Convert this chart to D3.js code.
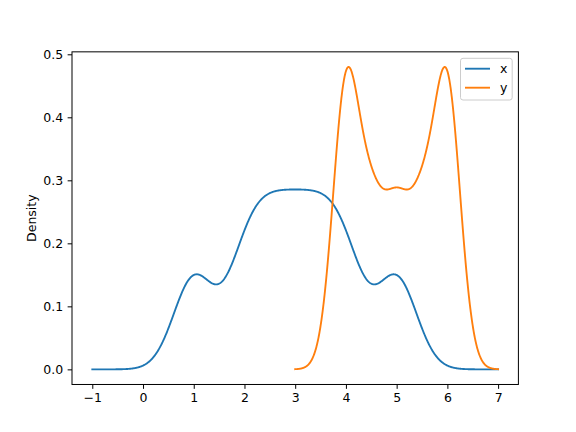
<!DOCTYPE html>
<html><head><meta charset="utf-8">
<script src="https://cdn.jsdelivr.net/npm/d3@7"></script>
<style>body{margin:0;background:#fff}svg{display:block}text{font-family:"DejaVu Sans",sans-serif}</style>
</head><body>
<script>
// raw samples behind the density plot
const seriesNames = ["x", "y"];
const xSamples = [1, 2, 2.5, 3, 3.5, 4, 5];
const ySamples = [4, 4, 4.5, 5, 5.5, 6, 6];
const bwFactor = 0.3;
const colors = ["#1f77b4", "#ff7f0e"];
const xTicks = [-1, 0, 1, 2, 3, 4, 5, 6, 7];
const yTicks = [0.0, 0.1, 0.2, 0.3, 0.4, 0.5];

const W = 576, H = 432;
const L = 72, R = 518.4, T = 51.84, B = 384.48;

function kde(samples) {
  const n = samples.length, m = d3.mean(samples), sd = d3.deviation(samples);
  const h = bwFactor * sd;
  const lo = d3.min(samples), hi = d3.max(samples), rg = hi - lo;
  const a = lo - 0.5 * rg, b = hi + 0.5 * rg;
  const pts = [];
  for (let i = 0; i < 1000; i++) {
    const xv = a + (b - a) * i / 999;
    const s = d3.sum(samples, v => Math.exp(-0.5 * ((xv - v) / h) ** 2));
    pts.push([xv, s / (n * h * Math.sqrt(2 * Math.PI))]);
  }
  return pts;
}
const curves = [kde(xSamples), kde(ySamples)];

const allX = curves.flat().map(d => d[0]), allY = curves.flat().map(d => d[1]);
const x0 = d3.min(allX), x1 = d3.max(allX), y0 = d3.min(allY), y1 = d3.max(allY);
const px = (x1 - x0) * 0.05, py = (y1 - y0) * 0.05;
const xs = d3.scaleLinear().domain([x0 - px, x1 + px]).range([L, R]);
const ys = d3.scaleLinear().domain([y0 - py, y1 + py]).range([B, T]);

const svg = d3.select("body").append("svg").attr("width", W).attr("height", H);
svg.append("rect").attr("width", W).attr("height", H).attr("fill", "#fff");

const line = d3.line().x(d => xs(d[0])).y(d => ys(d[1]));
curves.forEach((c, i) => {
  svg.append("path").datum(c).attr("d", line).attr("fill", "none")
    .attr("stroke", colors[i]).attr("stroke-width", 1.875).attr("stroke-linejoin", "round").attr("stroke-linecap", "square");
});

const xa = svg.append("g").attr("transform", `translate(0,${B})`)
  .call(d3.axisBottom(xs).tickValues(xTicks).tickSize(4.375).tickPadding(4.375).tickFormat(d3.format("d")));
const ya = svg.append("g").attr("transform", `translate(${L},0)`)
  .call(d3.axisLeft(ys).tickValues(yTicks).tickSize(4.375).tickPadding(4.375).tickFormat(d3.format(".1f")));
[xa, ya].forEach(g => {
  g.select(".domain").remove();
  g.selectAll("line").attr("stroke", "#000").attr("stroke-width", 1);
  g.selectAll("text").attr("font-size", 12.5).attr("fill", "#000").attr("font-family", "DejaVu Sans");
});
xa.selectAll("text").text(d => d < 0 ? "\u2212" + Math.abs(d) : d);

svg.append("rect").attr("x", L).attr("y", T).attr("width", R - L).attr("height", B - T)
  .attr("fill", "none").attr("stroke", "#000").attr("stroke-width", 1);

svg.append("text").attr("transform", `translate(36,${(T + B) / 2}) rotate(-90)`)
  .attr("text-anchor", "middle").attr("font-size", 12.5).text("Density");

// legend
const lg = svg.append("g");
lg.append("rect").attr("x", 460.5).attr("y", 58.3).attr("width", 51.7).attr("height", 41.7)
  .attr("rx", 2.5).attr("fill", "#fff").attr("fill-opacity", 0.8).attr("stroke", "#cccccc").attr("stroke-width", 1);
seriesNames.forEach((nm, i) => {
  const yy = 68.7 + i * 19;
  lg.append("line").attr("x1", 465).attr("x2", 490).attr("y1", yy).attr("y2", yy)
    .attr("stroke", colors[i]).attr("stroke-width", 1.875);
  lg.append("text").attr("x", 500).attr("y", yy).attr("dy", "0.35em").attr("font-size", 12.5).text(nm);
});
</script>
</body></html>
